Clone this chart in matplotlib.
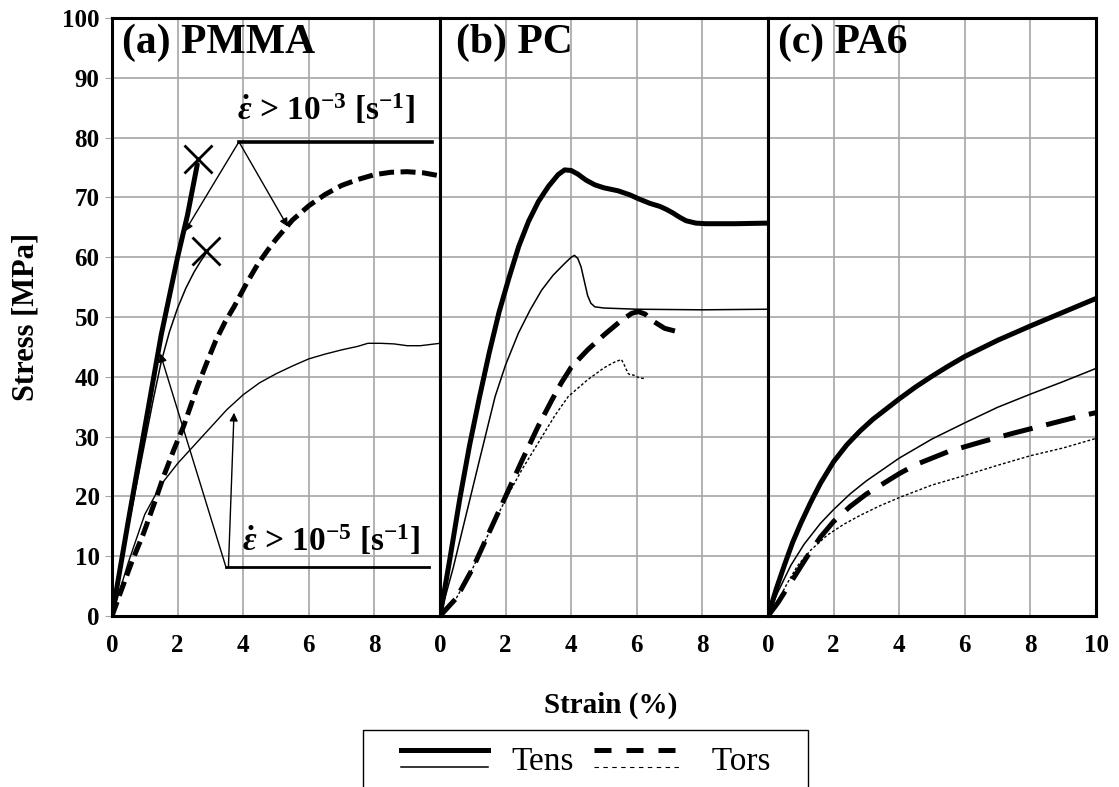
import matplotlib
matplotlib.use("Agg")
import matplotlib.pyplot as plt
from matplotlib.legend_handler import HandlerBase
from matplotlib.lines import Line2D
from matplotlib.patches import Rectangle

plt.rcParams["font.family"] = ["Liberation Serif", "DejaVu Serif"]
plt.rcParams["font.weight"] = "bold"
plt.rcParams["mathtext.fontset"] = "custom"
plt.rcParams["mathtext.rm"] = "Liberation Serif:bold"
plt.rcParams["mathtext.bf"] = "Liberation Serif:bold"
plt.rcParams["mathtext.it"] = "Liberation Serif:bold:italic"

# ---- data (strain %, stress MPa) ----
# (a) PMMA
pmma_tens_fast_x = [0, 0.5, 1.0, 1.5, 2.0, 2.3, 2.6]
pmma_tens_fast_y = [0, 16, 31.5, 47, 60, 67, 75.5]
pmma_tens_slow_x = [0, 0.5, 1, 1.25, 1.5, 1.75, 2, 2.25, 2.5, 2.7, 2.85]
pmma_tens_slow_y = [0, 15, 29, 36, 42.5, 47.5, 51.5, 54.8, 57.5, 59.3, 60.5]
pmma_break_x = [2.62, 2.88]
pmma_break_y = [76.5, 61]
pmma_tors_fast_x = [0, 0.25, 0.6, 0.96, 1.3, 1.57, 1.9, 2.18, 2.6, 2.9, 3.16, 3.45,
                    3.72, 4.1, 4.44, 4.75, 5.0, 5.5, 6.0, 6.5, 7.0, 7.5, 8.0, 8.5,
                    9.0, 9.5, 10]
pmma_tors_fast_y = [0, 3.8, 9, 13.8, 19, 23.3, 28, 31.7, 38.3, 42.5, 46, 49.2,
                    51.7, 55.6, 58.8, 61.2, 63, 66.2, 68.6, 70.5, 72, 73, 73.8, 74.2,
                    74.3, 74.1, 73.6]
pmma_tors_slow_x = [0, 0.5, 1, 1.5, 2, 2.5, 3, 3.5, 4, 4.5, 5, 5.5, 6, 6.5, 7, 7.5,
                    7.8, 8.2, 8.6, 9, 9.4, 9.7, 10]
pmma_tors_slow_y = [0, 9, 17, 22, 25.5, 28.5, 31.5, 34.5, 37, 39, 40.5, 41.8, 43,
                    43.8, 44.5, 45.1, 45.6, 45.6, 45.5, 45.2, 45.2, 45.4, 45.6]

# (b) PC
pc_tens_fast_x = [0, 0.3, 0.6, 0.9, 1.2, 1.5, 1.8, 2.1, 2.4, 2.7, 3.0, 3.3, 3.6,
                  3.8, 4.0, 4.2, 4.45, 4.72, 5.0, 5.43, 5.8, 6.04, 6.4, 6.7, 6.9,
                  7.1, 7.3, 7.5, 7.8, 8.1, 9, 10]
pc_tens_fast_y = [0, 9.5, 19.5, 28.5, 36.5, 44, 50.8, 56.5, 61.8, 66, 69.3, 71.8,
                  73.8, 74.6, 74.5, 73.9, 72.9, 72.1, 71.6, 71.1, 70.4, 69.8, 69.0,
                  68.5, 68.0, 67.4, 66.7, 66.1, 65.7, 65.6, 65.6, 65.7]
pc_tens_slow_x = [0, 0.4, 0.8, 1.2, 1.68, 2.0, 2.39, 2.75, 3.1, 3.45, 3.81, 4.0,
                  4.1, 4.2, 4.3, 4.4, 4.5, 4.6, 4.72, 5, 6, 8, 10]
pc_tens_slow_y = [0, 8, 17, 26, 36.7, 42, 47.3, 51.2, 54.5, 57, 59, 60, 60.3,
                  59.8, 58.4, 56, 53.6, 52.3, 51.7, 51.5, 51.3, 51.2, 51.3]
pc_tors_fast_x = [0, 0.5, 1, 1.5, 2, 2.5, 3, 3.4, 3.7, 4.0, 4.5, 5.0, 5.5, 5.84,
                  6.04, 6.25, 6.5, 6.85, 7.2, 7.46]
pc_tors_fast_y = [0, 3, 8, 14, 20, 26, 31.8, 36, 39, 41.6, 44.5, 47, 49.3, 50.6,
                  50.9, 50.5, 49.3, 48.1, 47.6, 47.3]
pc_tors_slow_x = [0, 0.5, 1, 1.5, 2, 2.5, 3, 3.5, 3.91, 4.5, 5, 5.3, 5.53, 5.6, 5.73,
                  5.8, 5.9, 6.0, 6.1, 6.24]
pc_tors_slow_y = [0, 3, 8, 14, 19.5, 24.5, 29, 33.5, 36.7, 39.5, 41.5, 42.4, 42.9,
                  42.2, 40.6, 40.3, 40.3, 40, 39.8, 39.7]

# (c) PA6
pa6_tens_fast_x = [0, 0.25, 0.5, 0.75, 1.0, 1.3, 1.6, 2.0, 2.4, 2.8, 3.2, 3.6, 4.0,
                   4.5, 5, 5.5, 6, 7, 8, 9, 10]
pa6_tens_fast_y = [0, 4.5, 8.5, 12.3, 15.5, 19, 22.2, 25.8, 28.6, 30.9, 32.9, 34.6,
                   36.3, 38.3, 40.1, 41.8, 43.4, 46.1, 48.5, 50.8, 53.1]
pa6_tens_slow_x = [0, 0.3, 0.7, 1.1, 1.6, 2.0, 2.5, 3.0, 3.5, 4.0, 5, 6, 7, 8, 9, 10]
pa6_tens_slow_y = [0, 4, 8.5, 12, 15.5, 17.8, 20.4, 22.6, 24.5, 26.4, 29.6, 32.3,
                   34.9, 37.1, 39.2, 41.4]
pa6_tors_fast_x = [0, 0.3, 0.6, 0.9, 1.2, 1.6, 2.0, 2.5, 3.0, 3.5, 4.0, 4.5, 5.5,
                   6.5, 7.5, 8.5, 9.5, 10]
pa6_tors_fast_y = [0, 2.2, 4.8, 7.4, 10, 13.2, 15.8, 18.3, 20.4, 22.1, 23.8, 25.3,
                   27.5, 29.1, 30.6, 32, 33.4, 34]
pa6_tors_slow_x = [0, 0.3, 0.6, 0.9, 1.3, 1.8, 2.3, 2.8, 3.4, 4.0, 5, 6, 7, 8, 9, 10]
pa6_tors_slow_y = [0, 2.5, 5.6, 8.4, 11, 13.5, 15.3, 16.8, 18.4, 19.8, 21.9, 23.5,
                   25.2, 26.8, 28.1, 29.7]

panel_titles = ["(a) PMMA", "(b) PC", "(c) PA6"]
y_ticks = list(range(0, 101, 10))
x_ticks = [0, 2, 4, 6, 8, 10]

panels = [
    (pmma_tens_fast_x, pmma_tens_fast_y, pmma_tens_slow_x, pmma_tens_slow_y,
     pmma_tors_fast_x, pmma_tors_fast_y, pmma_tors_slow_x, pmma_tors_slow_y),
    (pc_tens_fast_x, pc_tens_fast_y, pc_tens_slow_x, pc_tens_slow_y,
     pc_tors_fast_x, pc_tors_fast_y, pc_tors_slow_x, pc_tors_slow_y),
    (pa6_tens_fast_x, pa6_tens_fast_y, pa6_tens_slow_x, pa6_tens_slow_y,
     pa6_tors_fast_x, pa6_tors_fast_y, pa6_tors_slow_x, pa6_tors_slow_y),
]
dash_per_panel = [(3.0, 1.3), (4.5, 2.0), (6.0, 2.8)]
# PMMA slow torsion curve is drawn as a thin solid line in the original
slow_tors_style = ["-", (0, (2.0, 1.5)), (0, (2.0, 1.5))]
title_x = [0.3, 0.5, 0.3]

THICK, THIN = 3.6, 1.1
GRID = "#a6a6a6"
W, H = 1119, 787

fig, axes = plt.subplots(1, 3, sharey=True, figsize=(W / 100, H / 100), dpi=100)
fig.subplots_adjust(left=112 / W, right=1096 / W, bottom=1 - 616 / H, top=1 - 18 / H,
                    wspace=0)

for i, (ax, data) in enumerate(zip(axes, panels)):
    tfx, tfy, tsx, tsy, qfx, qfy, qsx, qsy = data
    ax.plot(tfx, tfy, color="black", lw=THICK, solid_capstyle="round",
            solid_joinstyle="round")
    ax.plot(tsx, tsy, color="black", lw=THIN)
    ax.plot(qfx, qfy, color="black", lw=THICK, linestyle=(0, dash_per_panel[i]))
    ax.plot(qsx, qsy, color="black", lw=1.0, linestyle=slow_tors_style[i])

    ax.set_xlim(0, 10)
    ax.set_ylim(0, 100)
    ax.set_xticks(x_ticks)
    labels = [str(t) for t in x_ticks]
    if i < 2:
        labels[-1] = ""
    ax.set_xticklabels(labels)
    ax.set_yticks(y_ticks)
    ax.grid(True, color=GRID, lw=1.2)
    ax.set_axisbelow(True)
    ax.tick_params(axis="x", length=0, pad=13, labelsize=18)
    ax.tick_params(axis="y", length=5 if i == 0 else 0, color=GRID, pad=4, labelsize=18)
    for sp in ax.spines.values():
        sp.set_color("black")
        sp.set_linewidth(2.2)
    ax.text(title_x[i], 99, panel_titles[i], fontsize=30, fontweight="bold",
            ha="left", va="top")

# break markers (PMMA tension)
ax = axes[0]
ax.plot(pmma_break_x, pmma_break_y, linestyle="none", marker="x", ms=20, mew=2,
        color="black")

# strain-rate annotations in panel (a)
arrow = dict(arrowstyle="-|>", color="black", lw=1.0, mutation_scale=12,
             shrinkA=0, shrinkB=0)
ax.plot([3.87, 9.75], [79.3, 79.3], color="black", lw=2.6)
ax.annotate("", xy=(2.22, 64.3), xytext=(3.87, 79.3), arrowprops=arrow)
ax.annotate("", xy=(5.36, 65.1), xytext=(3.87, 79.3), arrowprops=arrow)
ax.text(3.8, 84.6, r"$\dot{\varepsilon}$ > 10$^{-3}$ [s$^{-1}$]", fontsize=24,
        ha="left", va="center")

ax.plot([3.47, 9.65], [8.25, 8.25], color="black", lw=2.0)
ax.annotate("", xy=(1.47, 43.9), xytext=(3.47, 8.25), arrowprops=arrow)
ax.annotate("", xy=(3.72, 34.0), xytext=(3.55, 8.25), arrowprops=arrow)
ax.text(3.95, 12.6, r"$\dot{\varepsilon}$ > 10$^{-5}$ [s$^{-1}$]", fontsize=24,
        ha="left", va="center")

fig.text(26 / W, 1 - 317 / H, "Stress [MPa]", rotation=90, fontsize=22,
         fontweight="bold", ha="center", va="center")
fig.text(611 / W, 1 - 705 / H, "Strain (%)", fontsize=21, fontweight="bold",
         ha="center", va="center")


# legend: thick line stacked over thin line
class StackedHandler(HandlerBase):
    def create_artists(self, legend, orig_handle, xdescent, ydescent, width, height,
                       fontsize, trans):
        out = []
        for line, frac in zip(orig_handle, (0.85, 0.15)):
            ln = Line2D([-xdescent, width - xdescent],
                        [height * frac - ydescent] * 2)
            ln.update_from(line)
            ln.set_transform(trans)
            out.append(ln)
        return out


tens_handle = (Line2D([], [], color="black", lw=THICK),
               Line2D([], [], color="black", lw=THIN))
tors_handle = (Line2D([], [], color="black", lw=THICK, linestyle=(0, (3.4, 3.0))),
               Line2D([], [], color="black", lw=0.8, linestyle=(0, (4.0, 4.0))))
leg = fig.legend([tens_handle, tors_handle], ["Tens", " Tors"],
                 handler_map={tuple: StackedHandler()},
                 loc="center", bbox_to_anchor=(585.5 / W, 1 - 762 / H),
                 ncol=2, frameon=False,
                 prop={"family": "Liberation Serif", "weight": "normal", "size": 24},
                 handlelength=2.6, handleheight=0.75, handletextpad=0.7,
                 columnspacing=0.6, borderpad=0, borderaxespad=0)
fig.patches.append(Rectangle((363 / W, -0.05), (808 - 363) / W, 0.05 + 57 / H,
                             transform=fig.transFigure, fill=False,
                             edgecolor="black", lw=1.0))

fig.savefig("out.png", dpi=100)
